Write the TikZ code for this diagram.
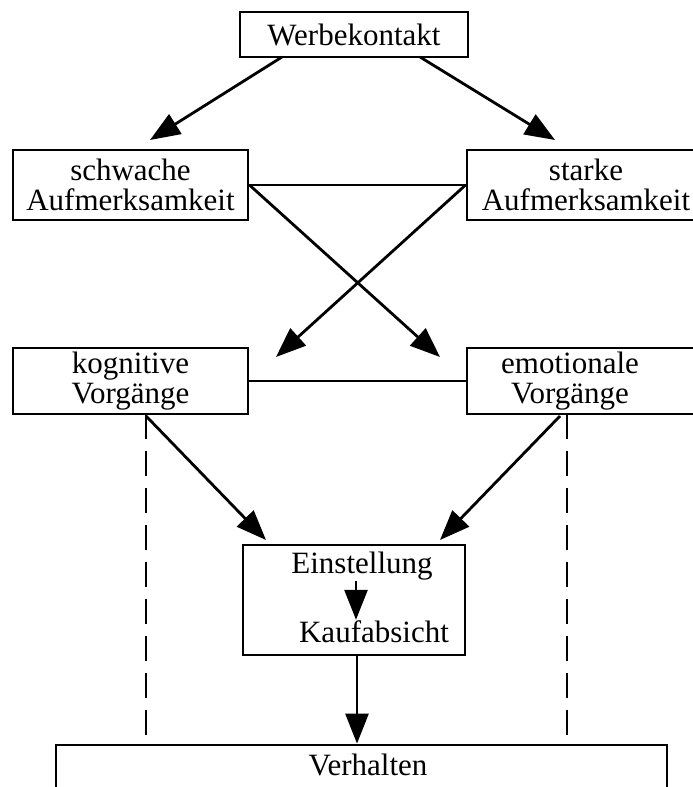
\documentclass[tikz,border=0pt]{standalone}
\usepackage{fontspec}
\setmainfont{Liberation Serif}
\usetikzlibrary{arrows.meta}
\begin{document}
\begin{tikzpicture}[x=1pt, y=-1pt, line width=2.8pt,
  box/.style={draw, rectangle, inner sep=0pt, align=center, font=\fontsize{31}{30}\selectfont},
  txt/.style={inner sep=0pt, align=center, font=\fontsize{31}{30}\selectfont},
  pfeil/.style={-{Triangle[length=30pt, width=23pt]}},
  strich/.style={dash pattern=on 25pt off 12pt}]
\useasboundingbox (0,0) rectangle (693,787);
\clip (0,0) rectangle (693,787);
\node [box, minimum width=228pt, minimum height=45pt] (werbung) at (354,34.5) {Werbekontakt};
\node [box, minimum width=235pt, minimum height=70pt] (schwach) at (130.5,185) {schwache\\Aufmerksamkeit};
\node [box, minimum width=238pt, minimum height=70pt] (stark) at (586,185) {starke\\Aufmerksamkeit};
\node [box, minimum width=235pt, minimum height=66pt] (kog) at (130.5,381) {kognitive\\Vorgänge};
\node [box, minimum width=240pt, minimum height=66pt] (emo) at (587,381) {};
\node [txt] (emotxt) at (570,381) {emotionale\\Vorgänge};
\node [box, minimum width=222pt, minimum height=110pt] (einst) at (354,600) {};
\node [txt, anchor=base] (einstellung) at (362,573) {Einstellung};
\node [txt, anchor=base] (kauf) at (374,642) {Kaufabsicht};
\node [box, minimum width=611pt, minimum height=110pt] (verh) at (361.5,800) {};
\node [txt, anchor=base] (verhalten) at (368,775) {Verhalten};
\coordinate (wl) at (282,57);
\coordinate (wr) at (420,57);
\coordinate (zschwach) at (150,140);
\coordinate (zstark) at (555,140);
\coordinate (zkog) at (276,357);
\coordinate (zemo) at (440,357);
\coordinate (kl) at (146,414);
\coordinate (kr) at (146,416);
\coordinate (el) at (567,414);
\coordinate (er) at (560,416);
\coordinate (zeinl) at (266,540);
\coordinate (zeinr) at (440,540);
\draw [pfeil] (wl) -- (zschwach);
\draw [pfeil] (wr) -- (zstark);
\draw (schwach.east) -- (stark.west);
\draw [pfeil] (schwach.east) -- (zemo);
\draw [pfeil] (stark.west) -- (zkog);
\draw (kog.east) -- (emo.west);
\draw [strich] (kl) -- (kl |- verh.north);
\draw [strich] (el) -- (el |- verh.north);
\draw [pfeil] (kr) -- (zeinl);
\draw [pfeil] (er) -- (zeinr);
\draw [pfeil] ([xshift=-6pt]einstellung.south) -- ([xshift=-18pt, yshift=-1pt]kauf.north);
\draw [pfeil] (einst.south -| 357,0) -- (verh.north -| 357,0);
\end{tikzpicture}
\end{document}
